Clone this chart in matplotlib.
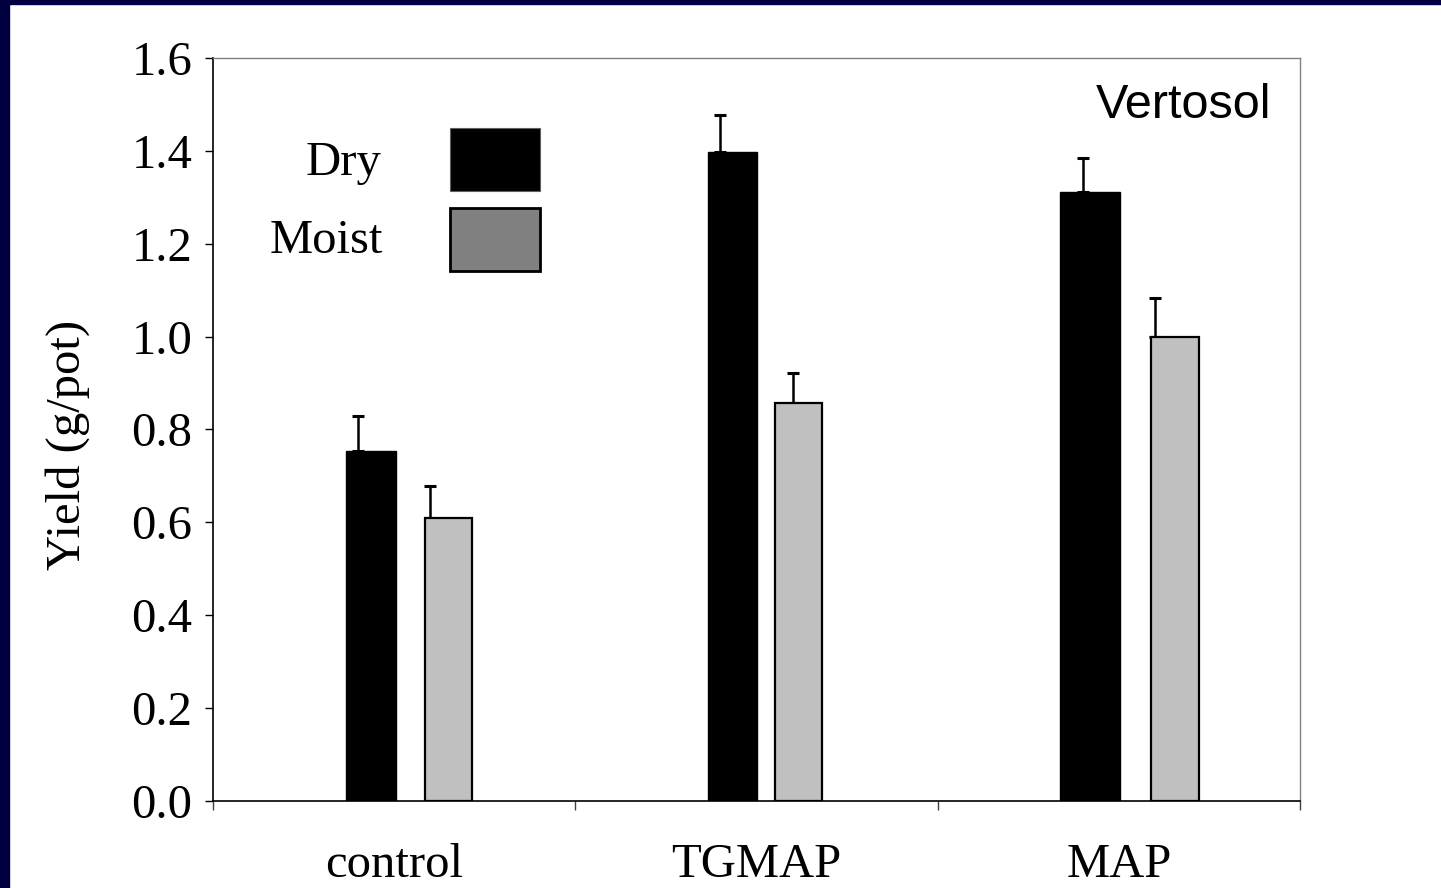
import numpy as np
import matplotlib.pyplot as plt
from matplotlib.patches import Rectangle

categories = ['control', 'TGMAP', 'MAP']
dry = [0.754, 1.397, 1.312]
dry_err = [0.074, 0.079, 0.072]
moist = [0.610, 0.858, 1.000]
moist_err = [0.069, 0.064, 0.082]
y_ticks = [0.0, 0.2, 0.4, 0.6, 0.8, 1.0, 1.2, 1.4, 1.6]

serif = 'Liberation Serif'
sans = 'Liberation Sans'
navy = '#000040'

fig = plt.figure(figsize=(14.41, 8.88), dpi=100)
fig.patch.set_facecolor('white')
# dark slide frame on the left and top edges
fig.patches.append(Rectangle((0, 0), 9 / 1441, 1, transform=fig.transFigure, color=navy, zorder=0))
fig.patches.append(Rectangle((0, 1 - 4 / 888), 1, 4 / 888, transform=fig.transFigure, color=navy, zorder=0))

ax = fig.add_axes([213 / 1441, (888 - 801.3) / 888, 1087 / 1441, 743.6 / 888])

x = np.arange(len(categories))
# bar placement within each group (as drawn in the original, slightly uneven)
dry_off = np.array([-0.065, -0.065, -0.080])
dry_w = np.array([0.138, 0.135, 0.166])
moist_off = np.array([0.150, 0.116, 0.155])
moist_w = np.array([0.132, 0.132, 0.132])
err_off = 0.10

ax.bar(x + dry_off, dry, width=dry_w, color='black', edgecolor='black', linewidth=1.0, zorder=2)
ax.bar(x + moist_off, moist, width=moist_w, color='#c0c0c0', edgecolor='black', linewidth=1.6, zorder=2)
ax.errorbar(x - err_off, dry, yerr=[np.zeros(3), dry_err], fmt='none', ecolor='black',
            elinewidth=1.8, capsize=4, capthick=2.2, zorder=1)
ax.errorbar(x + err_off, moist, yerr=[np.zeros(3), moist_err], fmt='none', ecolor='black',
            elinewidth=1.8, capsize=4, capthick=2.2, zorder=1)

ax.set_xlim(-0.5, 2.5)
ax.set_ylim(0, 1.6)
ax.set_yticks(y_ticks)
ax.set_yticklabels([f'{v:.1f}' for v in y_ticks], fontfamily=serif, fontsize=35)
ax.tick_params(axis='y', direction='out', length=5.8, width=1.0, pad=9)

ax.set_xticks(np.arange(-0.5, 3, 1.0))
ax.set_xticklabels([])
ax.tick_params(axis='x', which='major', direction='out', length=6.5, width=1.0, color='#404040')
ax.set_xticks(x, minor=True)
ax.set_xticklabels(categories, minor=True, fontfamily=serif, fontsize=35)
ax.tick_params(axis='x', which='minor', length=0, pad=30)

for s in ['left', 'bottom']:
    ax.spines[s].set_color('black')
    ax.spines[s].set_linewidth(1.2)
for s in ['top', 'right']:
    ax.spines[s].set_color('#808080')
    ax.spines[s].set_linewidth(1.0)

fig.text(68 / 1441, 0.499, 'Yield (g/pot)', rotation=90, ha='center', va='center',
         fontfamily=serif, fontsize=35)

# hand-made key, as in the source slide
ax.add_patch(Rectangle((0.218, 0.821), 0.083, 0.084, transform=ax.transAxes,
                       facecolor='black', edgecolor='#606060', linewidth=0.8, zorder=3))
ax.add_patch(Rectangle((0.218, 0.713), 0.083, 0.085, transform=ax.transAxes,
                       facecolor='#808080', edgecolor='black', linewidth=2.0, zorder=3))
ax.text(0.155, 0.842, 'Dry', transform=ax.transAxes, ha='right', va='baseline',
        fontfamily=serif, fontsize=35)
ax.text(0.156, 0.737, 'Moist', transform=ax.transAxes, ha='right', va='baseline',
        fontfamily=serif, fontsize=35)
ax.text(0.974, 0.919, 'Vertosol', transform=ax.transAxes, ha='right', va='baseline',
        fontfamily=sans, fontsize=35)

plt.savefig('out.png', dpi=100, facecolor='white')
plt.close()
